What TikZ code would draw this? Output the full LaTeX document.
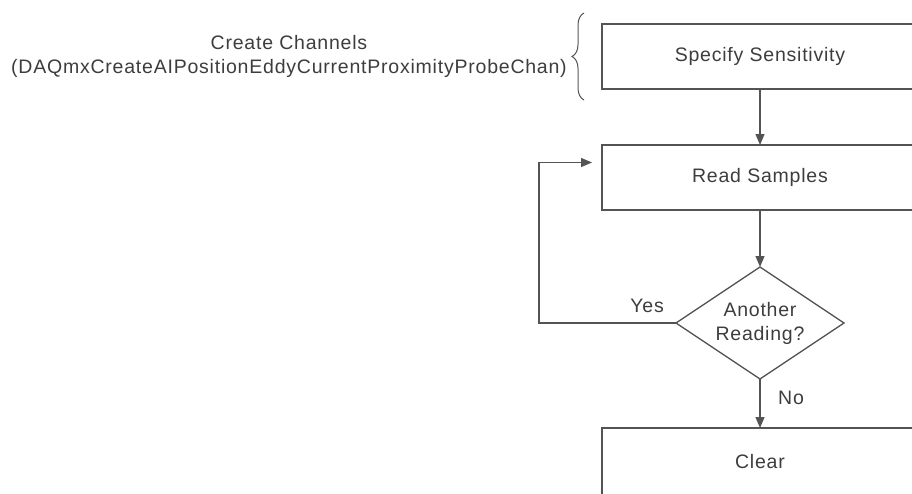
\documentclass[tikz,border=0pt]{standalone}
\usepackage{fontspec}
\setmainfont{Liberation Sans}[LetterSpace=4]
\usetikzlibrary{arrows.meta,positioning,shapes.geometric,calc,decorations.pathreplacing}
\definecolor{linegray}{rgb}{0.33,0.33,0.33}
\definecolor{textgray}{rgb}{0.24,0.24,0.24}

\begin{document}
\begin{tikzpicture}[x=1pt,y=1pt,font=\fontsize{19.5}{24}\selectfont,text=textgray,
   b/.style={draw=linegray,line width=1.3pt,minimum width=316pt,minimum height=65pt,
             outer sep=0pt},
   d/.style={draw=linegray,line width=1.3pt,diamond,aspect=1.5,inner sep=0pt,
             minimum width=168pt,minimum height=112pt,align=center,outer sep=0pt},
   a/.style={draw=linegray,line width=1.3pt,-{Triangle[length=11pt,width=9pt]}}]
  \useasboundingbox (0,0) rectangle (912,-493);
  \clip (0,0) rectangle (912,-493);
  \node[b] (spec) at (760,-56.5) {Specify Sensitivity};
  \node[b,below=56pt of spec] (read) {Read Samples};
  \node[d,below=57pt of read] (dec) {Another\\Reading?};
  \node[b,minimum height=68pt,below=49pt of dec] (clear) {Clear};
  \draw[a] (spec) -- (read);
  \draw[a] (read) -- (dec);
  \draw[a] (dec) -- (clear);
  \coordinate (back) at ([xshift=-10pt,yshift=15pt]read.west);
  \draw[a] (dec.west) -- ++(-137,0) |- (back);
  \node[above left=10pt and 12pt of dec.west,inner sep=0pt] (yes) {Yes};
  \node[below right=12pt and 18pt of dec.south,inner sep=0pt] (no) {No};
  % brace for the channel step
  \draw[draw=linegray,line width=1pt,decorate,decoration={brace,amplitude=12pt}]
    ($(spec.south west)+(-18,-11)$) -- ($(spec.north west)+(-18,11)$);
  \coordinate (tip) at ($(spec.west)+(-30,0)$);
  \node[left=5pt of tip,inner sep=0pt,align=center] (chan)
    {Create Channels\\(DAQmxCreateAIPositionEddyCurrentProximityProbeChan)};
\end{tikzpicture}
\end{document}
